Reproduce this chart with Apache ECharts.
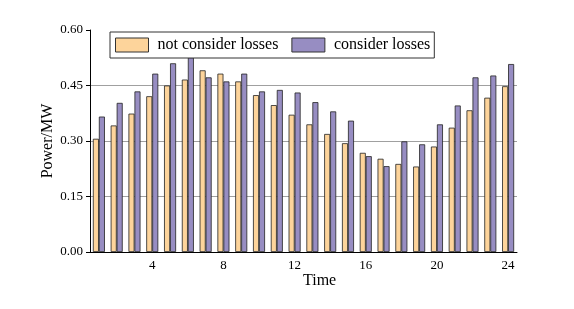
<!DOCTYPE html>
<html>
<head>
<meta charset="utf-8">
<script src="https://cdn.jsdelivr.net/npm/echarts@6/dist/echarts.min.js"></script>
<style>html,body{margin:0;padding:0;background:#fff}#c{width:574px;height:309px}</style>
</head>
<body>
<div id="c"></div>
<script>
var categories = ['1','2','3','4','5','6','7','8','9','10','11','12','13','14','15','16','17','18','19','20','21','22','23','24'];
var notConsiderLosses = [0.306,0.342,0.374,0.421,0.450,0.466,0.491,0.482,0.461,0.424,0.397,0.371,0.345,0.319,0.294,0.268,0.252,0.238,0.231,0.285,0.336,0.383,0.417,0.448];
var considerLosses = [0.366,0.403,0.434,0.482,0.510,0.526,0.472,0.461,0.482,0.434,0.438,0.431,0.405,0.380,0.355,0.259,0.232,0.299,0.291,0.345,0.396,0.472,0.477,0.508];
var yTicks = [0, 0.15, 0.30, 0.45, 0.60];
var seriesNames = ['not consider losses', 'consider losses'];

var FONT = '"Liberation Serif", "Times New Roman", serif';
var chart = echarts.init(document.getElementById('c'));
chart.setOption({
  animation: false,
  backgroundColor: '#fff',
  textStyle: { fontFamily: FONT },
  grid: { left: 90, right: 57, top: 30, bottom: 57 },
  legend: {
    left: 110, top: 32,
    padding: [5, 4, 5, 5],
    itemGap: 13,
    itemWidth: 33, itemHeight: 14,
    icon: 'rect',
    borderColor: '#333', borderWidth: 1,
    backgroundColor: '#fff',
    itemStyle: { borderColor: '#333', borderWidth: 1 },
    textStyle: { fontFamily: FONT, fontSize: 16, color: '#000', padding: [0, 0, 0, 4] },
    data: seriesNames
  },
  xAxis: {
    type: 'category',
    data: categories,
    boundaryGap: true,
    axisLine: { lineStyle: { color: '#000', width: 1 } },
    axisTick: { show: false },
    axisLabel: {
      interval: function (i) { return (i + 1) % 4 === 0; },
      fontFamily: FONT, fontSize: 13, color: '#000', margin: 7
    },
    splitLine: { show: false }
  },
  yAxis: {
    type: 'value',
    min: yTicks[0], max: yTicks[yTicks.length - 1], interval: 0.15,
    name: 'Power/MW',
    nameLocation: 'middle',
    nameGap: 34,
    nameMoveOverlap: false,
    nameTextStyle: { fontFamily: FONT, fontSize: 16, color: '#000' },
    axisLine: { show: true, lineStyle: { color: '#000', width: 1 } },
    axisTick: { show: true, length: 4, lineStyle: { color: '#000' } },
    axisLabel: {
      formatter: function (v) { return v.toFixed(2); },
      fontFamily: FONT, fontSize: 13, color: '#000', margin: 7
    },
    splitLine: { show: true, lineStyle: { color: ['transparent', '#a0a0a0', '#a0a0a0', '#a0a0a0', 'transparent'], width: 1 } }
  },
  graphic: [{
    type: 'text', left: 303, top: 273,
    style: { text: 'Time', font: '16px ' + FONT, fill: '#000' }
  }],
  series: [{
    name: seriesNames[0], type: 'bar', data: notConsiderLosses,
    barWidth: 6, barGap: '0%',
    itemStyle: { color: '#FDD49B', borderColor: '#222', borderWidth: 0.8 }
  }, {
    name: seriesNames[1], type: 'bar', data: considerLosses,
    barWidth: 6, barGap: '0%',
    itemStyle: { color: '#978DC2', borderColor: '#222', borderWidth: 0.8 }
  }]
});
</script>
</body>
</html>
